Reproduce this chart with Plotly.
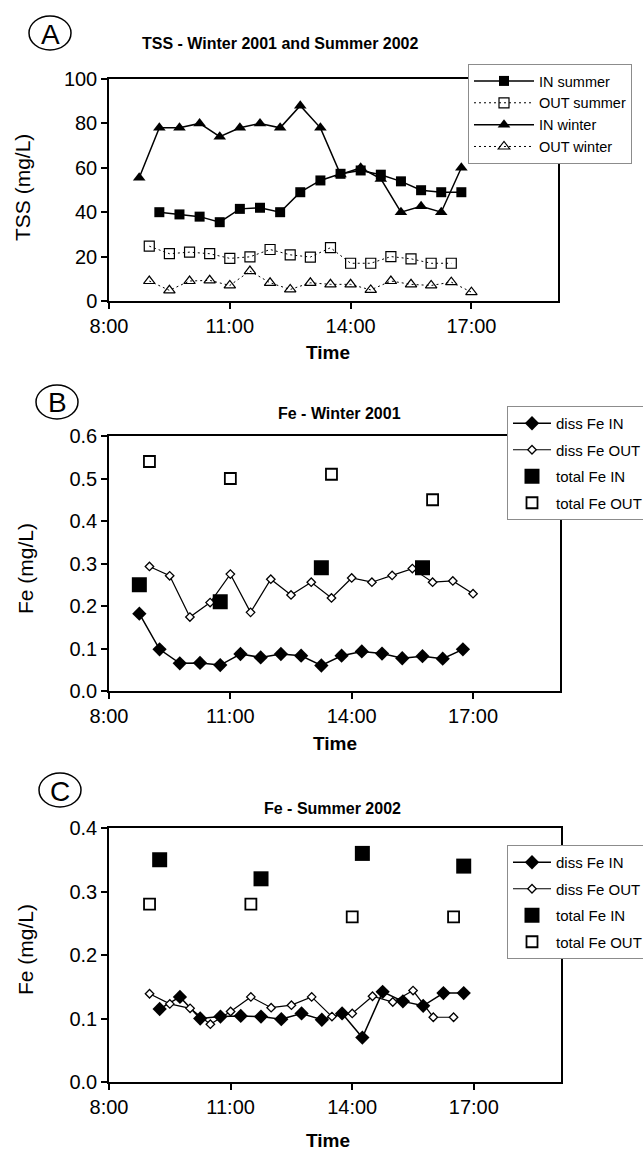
import plotly.graph_objects as go

W, H = 643, 1155
FONT = "Liberation Sans, Arial, sans-serif"

# ---------------- Panel A : TSS ----------------
a_in_summer_t = ["9:15", "9:45", "10:15", "10:45", "11:15", "11:45", "12:15", "12:45",
                 "13:15", "13:45", "14:15", "14:45", "15:15", "15:45", "16:15", "16:45"]
a_in_summer_v = [40, 39, 38, 35.5, 41.5, 42, 40, 49, 54.3, 57.3, 58.8, 56.9, 53.9, 49.9, 49, 49]

a_out_summer_t = ["9:00", "9:30", "10:00", "10:30", "11:00", "11:30", "12:00", "12:30",
                  "13:00", "13:30", "14:00", "14:30", "15:00", "15:30", "16:00", "16:30"]
a_out_summer_v = [24.7, 21.3, 22, 21.3, 19.2, 19.9, 23.2, 20.8, 19.8, 24, 17, 17, 20, 19, 17, 17]

a_in_winter_t = ["8:45", "9:15", "9:45", "10:15", "10:45", "11:15", "11:45", "12:15", "12:45",
                 "13:15", "13:45", "14:15", "14:45", "15:15", "15:45", "16:15", "16:45"]
a_in_winter_v = [55.5, 78, 78, 80, 74, 78, 80, 78, 88, 78, 57, 60, 55, 40, 42.7, 40, 60]

a_out_winter_t = ["9:00", "9:30", "10:00", "10:30", "11:00", "11:30", "12:00", "12:30", "13:00",
                  "13:30", "14:00", "14:30", "15:00", "15:30", "16:00", "16:30", "17:00"]
a_out_winter_v = [9, 4.8, 9, 9.3, 7, 13.5, 8.2, 5.2, 8.2, 7.5, 7.5, 5, 9, 7.5, 7, 8.5, 4]

# ---------------- Panel B : Fe winter 2001 ----------------
b_diss_in_t = ["8:45", "9:15", "9:45", "10:15", "10:45", "11:15", "11:45", "12:15", "12:45",
               "13:15", "13:45", "14:15", "14:45", "15:15", "15:45", "16:15", "16:45"]
b_diss_in_v = [0.182, 0.098, 0.065, 0.066, 0.061, 0.087, 0.079, 0.087, 0.083,
               0.060, 0.083, 0.093, 0.088, 0.077, 0.082, 0.076, 0.098]

b_diss_out_t = ["9:00", "9:30", "10:00", "10:30", "11:00", "11:30", "12:00", "12:30", "13:00",
                "13:30", "14:00", "14:30", "15:00", "15:30", "16:00", "16:30", "17:00"]
b_diss_out_v = [0.293, 0.271, 0.174, 0.208, 0.275, 0.185, 0.263, 0.226, 0.256,
                0.219, 0.266, 0.256, 0.272, 0.288, 0.256, 0.259, 0.229]

b_tot_in_t = ["8:45", "10:45", "13:15", "15:45"]
b_tot_in_v = [0.25, 0.21, 0.29, 0.29]

b_tot_out_t = ["9:00", "11:00", "13:30", "16:00"]
b_tot_out_v = [0.54, 0.50, 0.51, 0.45]

# ---------------- Panel C : Fe summer 2002 ----------------
c_diss_in_t = ["9:15", "9:45", "10:15", "10:45", "11:15", "11:45", "12:15", "12:45",
               "13:15", "13:45", "14:15", "14:45", "15:15", "15:45", "16:15", "16:45"]
c_diss_in_v = [0.115, 0.134, 0.100, 0.103, 0.104, 0.103, 0.099, 0.108,
               0.098, 0.108, 0.070, 0.142, 0.127, 0.120, 0.140, 0.140]

c_diss_out_t = ["9:00", "9:30", "10:00", "10:30", "11:00", "11:30", "12:00", "12:30",
                "13:00", "13:30", "14:00", "14:30", "15:00", "15:30", "16:00", "16:30"]
c_diss_out_v = [0.139, 0.123, 0.116, 0.091, 0.111, 0.134, 0.117, 0.121,
                0.134, 0.103, 0.108, 0.135, 0.126, 0.144, 0.102, 0.102]

c_tot_in_t = ["9:15", "11:45", "14:15", "16:45"]
c_tot_in_v = [0.35, 0.32, 0.36, 0.34]

c_tot_out_t = ["9:00", "11:30", "14:00", "16:30"]
c_tot_out_v = [0.28, 0.28, 0.26, 0.26]

tick_vals = [8, 11, 14, 17]
tick_text = ["8:00", "11:00", "14:00", "17:00"]


def hrs(ts):
    out = []
    for t in ts:
        h, m = t.split(":")
        out.append(int(h) + int(m) / 60.0)
    return out


def xdom(x0, x1):
    return [x0 / W, x1 / W]


def ydom(top, bottom):
    return [1 - bottom / H, 1 - top / H]


fig = go.Figure()

# ---- Panel A traces
fig.add_trace(go.Scatter(x=hrs(a_in_summer_t), y=a_in_summer_v, name="IN summer",
                         mode="lines+markers", line=dict(color="black", width=1.5),
                         marker=dict(symbol="square", size=10, color="black"),
                         xaxis="x", yaxis="y", legend="legend", legendgroup="a1"))
fig.add_trace(go.Scatter(x=hrs(a_out_summer_t), y=a_out_summer_v, name="OUT summer",
                         mode="lines+markers", line=dict(color="black", width=1, dash="2px,3px"),
                         marker=dict(symbol="square-open", size=10, color="black", line=dict(width=1.2)),
                         xaxis="x", yaxis="y", legend="legend", legendgroup="a2"))
fig.add_trace(go.Scatter(x=hrs(a_in_winter_t), y=a_in_winter_v, name="IN winter",
                         mode="lines+markers", line=dict(color="black", width=1.5),
                         marker=dict(symbol="triangle-up", size=11, color="black"),
                         xaxis="x", yaxis="y", legend="legend", legendgroup="a3"))
fig.add_trace(go.Scatter(x=hrs(a_out_winter_t), y=a_out_winter_v, name="OUT winter",
                         mode="lines+markers", line=dict(color="black", width=1, dash="2px,3px"),
                         marker=dict(symbol="triangle-up-open", size=10, color="black", line=dict(width=1.2)),
                         xaxis="x", yaxis="y", legend="legend", legendgroup="a4"))


def fe_panel(xa, ya, leg, din_t, din_v, dout_t, dout_v, tin_t, tin_v, tout_t, tout_v, g):
    fig.add_trace(go.Scatter(x=hrs(din_t), y=din_v, name="diss Fe IN", mode="lines+markers",
                             line=dict(color="black", width=1.5),
                             marker=dict(symbol="diamond", size=11, color="black"),
                             xaxis=xa, yaxis=ya, legend=leg, legendgroup=g + "1"))
    fig.add_trace(go.Scatter(x=hrs(dout_t), y=dout_v, name="diss Fe OUT", mode="lines+markers",
                             line=dict(color="black", width=1.2),
                             marker=dict(symbol="diamond", size=6.5, color="white",
                                         line=dict(color="black", width=1.3)),
                             xaxis=xa, yaxis=ya, legend=leg, legendgroup=g + "2"))
    fig.add_trace(go.Scatter(x=hrs(tin_t), y=tin_v, name="total Fe IN", mode="markers",
                             marker=dict(symbol="square", size=15, color="black"),
                             xaxis=xa, yaxis=ya, legend=leg, legendgroup=g + "3"))
    fig.add_trace(go.Scatter(x=hrs(tout_t), y=tout_v, name="total Fe OUT", mode="markers",
                             marker=dict(symbol="square", size=11, color="white",
                                         line=dict(color="black", width=1.8)),
                             xaxis=xa, yaxis=ya, legend=leg, legendgroup=g + "4"))


fe_panel("x2", "y2", "legend2", b_diss_in_t, b_diss_in_v, b_diss_out_t, b_diss_out_v,
         b_tot_in_t, b_tot_in_v, b_tot_out_t, b_tot_out_v, "b")
fe_panel("x3", "y3", "legend3", c_diss_in_t, c_diss_in_v, c_diss_out_t, c_diss_out_v,
         c_tot_in_t, c_tot_in_v, c_tot_out_t, c_tot_out_v, "c")

tickfont = dict(family=FONT, size=20, color="black")
ax = dict(showline=True, linecolor="black", linewidth=1.5, mirror=True, ticks="outside",
          ticklen=6, tickwidth=1.5, tickcolor="black", showgrid=False, zeroline=False,
          tickfont=tickfont, fixedrange=True)
xr = [8, 19.15]

leg_common = dict(bgcolor="white", bordercolor="#8c8c8c", borderwidth=1,
                  xanchor="left", yanchor="top", tracegroupgap=0)

fig.update_layout(
    width=W, height=H, margin=dict(l=0, r=0, t=0, b=0, autoexpand=False),
    paper_bgcolor="white", plot_bgcolor="white",
    font=dict(family=FONT, color="black"),
    xaxis=dict(ax, domain=xdom(109, 558), range=xr, tickvals=tick_vals, ticktext=tick_text, anchor="y"),
    yaxis=dict(ax, domain=ydom(79, 301), range=[0, 100], dtick=20, anchor="x"),
    xaxis2=dict(ax, domain=xdom(109, 560), range=xr, tickvals=tick_vals, ticktext=tick_text, anchor="y2"),
    yaxis2=dict(ax, domain=ydom(436, 691), range=[0, 0.6], dtick=0.1, tickformat=".1f", anchor="x2"),
    xaxis3=dict(ax, domain=xdom(109, 561), range=xr, tickvals=tick_vals, ticktext=tick_text, anchor="y3"),
    yaxis3=dict(ax, domain=ydom(828, 1082), range=[0, 0.4], dtick=0.1, tickformat=".1f", anchor="x3"),
    legend=dict(leg_common, x=468 / W, y=1 - 64 / H, itemwidth=60,
                font=dict(family=FONT, size=14.5, color="black")),
    legend2=dict(leg_common, x=507 / W, y=1 - 406 / H, itemwidth=38, tracegroupgap=4,
                 font=dict(family=FONT, size=15, color="black")),
    legend3=dict(leg_common, x=507 / W, y=1 - 845 / H, itemwidth=38, tracegroupgap=4,
                 font=dict(family=FONT, size=15, color="black")),
    showlegend=True,
)

ann = []


def txt(x, y, s, size, bold=False, angle=0):
    ann.append(dict(x=x / W, y=1 - y / H, xref="paper", yref="paper", text=("<b>%s</b>" % s) if bold else s,
                    showarrow=False, xanchor="center", yanchor="middle", textangle=angle,
                    font=dict(family=FONT, size=size, color="black")))


txt(280, 43, "TSS - Winter 2001 and Summer 2002", 16, bold=True)
txt(340, 413, "Fe - Winter 2001", 16, bold=True)
txt(332, 808, "Fe - Summer 2002", 16, bold=True)
txt(328, 352, "Time", 19, bold=True)
txt(335, 743, "Time", 19, bold=True)
txt(328, 1140, "Time", 19, bold=True)
txt(22, 188, "TSS (mg/L)", 21, angle=-90)
txt(25, 569, "Fe (mg/L)", 21, angle=-90)
txt(25, 950, "Fe (mg/L)", 21, angle=-90)

shapes = []
for letter, cx, cy in [("A", 50, 33), ("B", 57, 402), ("C", 60, 790)]:
    txt(cx, cy + 1, letter, 28)
    shapes.append(dict(type="circle", xref="paper", yref="paper",
                       x0=(cx - 21) / W, x1=(cx + 21) / W, y0=1 - (cy + 17) / H, y1=1 - (cy - 17) / H,
                       line=dict(color="black", width=1.5)))

fig.update_layout(annotations=ann, shapes=shapes)

fig.write_html("out.html")
